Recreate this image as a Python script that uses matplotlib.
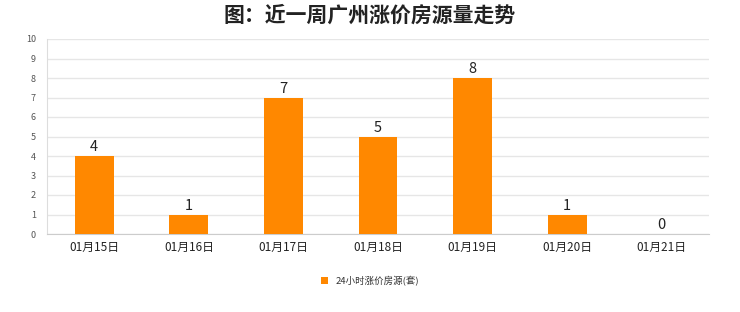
import matplotlib
matplotlib.use("Agg")
import matplotlib.pyplot as plt
from matplotlib.patches import Patch

plt.rcParams['font.family'] = ['Noto Sans CJK SC', 'DejaVu Sans']

dates = ["01月15日", "01月16日", "01月17日", "01月18日", "01月19日", "01月20日", "01月21日"]
counts = [4, 1, 7, 5, 8, 1, 0]
yticks = list(range(0, 11))

W, H = 740, 312
fig = plt.figure(figsize=(W / 100, H / 100), dpi=100, facecolor="white")
ax = fig.add_axes([47 / W, 1 - 234 / H, (709 - 47) / W, (234 - 39) / H])
ax.set_facecolor("white")

bar_color = "#FF8800"
x = list(range(len(dates)))
ax.bar(x, counts, width=0.41, color=bar_color, zorder=3)
for xi, v in zip(x, counts):
    ax.text(xi, v + 0.1, str(v), ha="center", va="bottom", fontsize=10.5,
            color="#222222", zorder=4)

ax.set_xlim(-0.5, len(dates) - 0.5)
ax.set_ylim(0, 10)
ax.set_yticks(yticks)
ax.set_yticklabels([str(t) for t in yticks], fontsize=6.5, color="#555555")
ax.set_xticks(x)
ax.set_xticklabels(dates, fontsize=8.5, color="#222222")
ax.tick_params(axis="both", length=0, pad=5)
ax.tick_params(axis="y", pad=8)
ax.yaxis.grid(True, color="#e6e6e6", linewidth=1, zorder=0)
for side in ("top", "right"):
    ax.spines[side].set_visible(False)
ax.spines["left"].set_color("#dddddd")
ax.spines["bottom"].set_color("#cccccc")

fig.text(0.5, 1 - 15 / H, "图：近一周广州涨价房源量走势", ha="center", va="center",
         fontsize=15, fontweight="bold", color="#222222")

handle = Patch(facecolor=bar_color, edgecolor="none")
fig.legend([handle], ["24小时涨价房源(套)"], loc="center",
           bbox_to_anchor=(370 / W, 1 - 281 / H), frameon=False, fontsize=6.8,
           handlelength=0.7, handleheight=0.7, handletextpad=0.8,
           labelcolor="#333333")

fig.savefig("out.png", dpi=100, facecolor="white")
